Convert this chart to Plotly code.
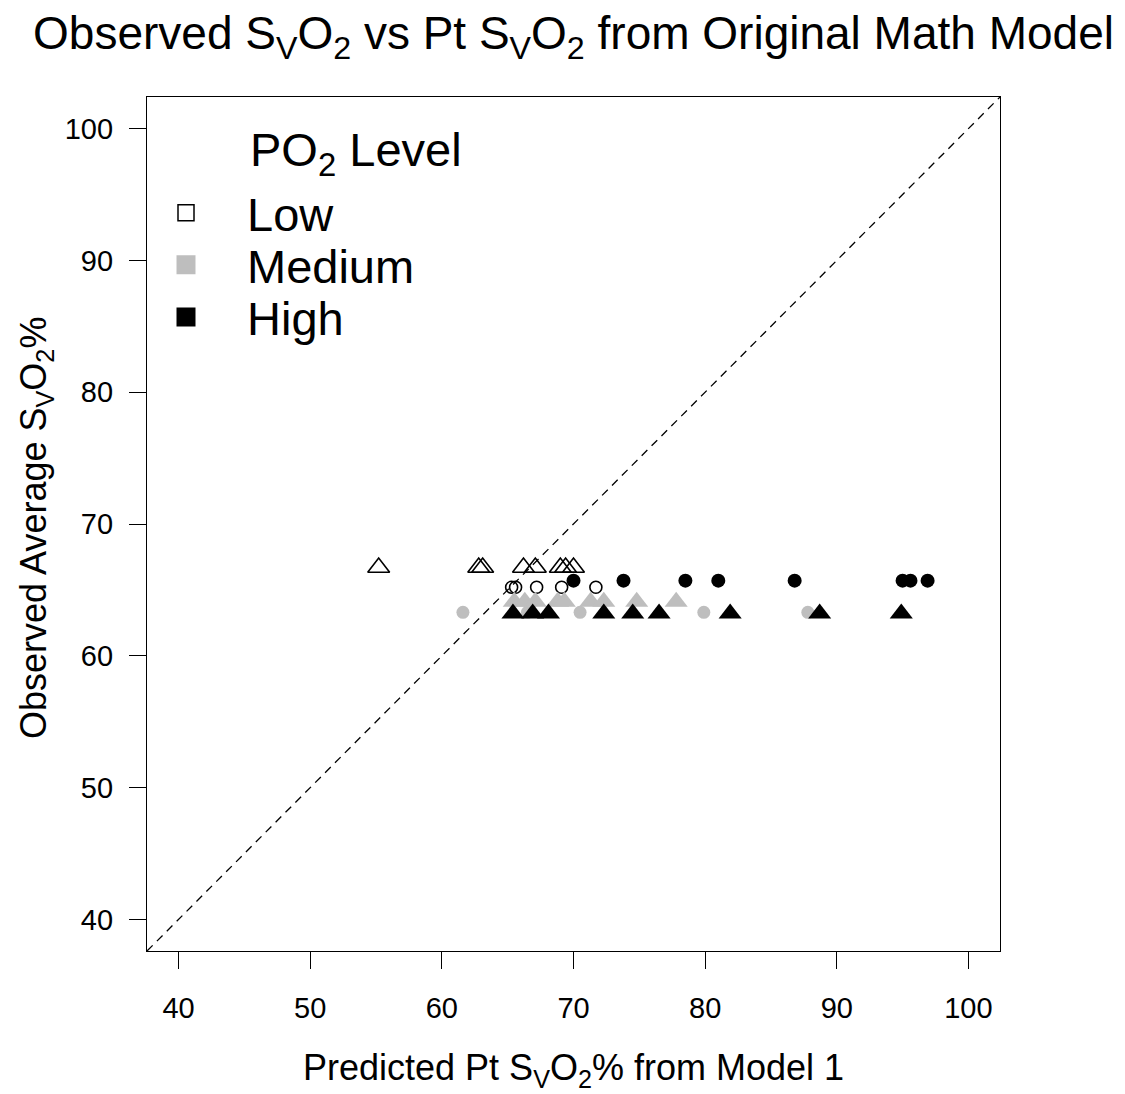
import plotly.graph_objects as go

# ---- data ----
low_tri_x = [55.2, 62.8, 63.1, 66.2, 67.1, 69.0, 69.4, 70.0]
low_tri_y = 66.7
low_circ_x = [65.3, 65.6, 67.2, 69.1, 71.7]
low_circ_y = 65.2
med_tri_x = [65.5, 66.3, 67.1, 68.8, 69.3, 71.3, 72.3, 74.8, 77.8]
med_tri_y = 64.1
med_circ_x = [61.6, 66.5, 70.5, 79.9, 87.8]
med_circ_y = 63.3
high_circ_x = [70.0, 73.8, 78.5, 81.0, 86.8, 95.0, 95.6, 96.9]
high_circ_y = 65.7
high_tri_x = [65.4, 66.9, 68.1, 72.3, 74.5, 76.5, 81.9, 88.7, 94.9]
high_tri_y = 63.2

axis_range = [37.6, 102.4]
tick_vals = [40, 50, 60, 70, 80, 90, 100]
legend_labels = ["Low", "Medium", "High"]

GRAY = "#BEBEBE"
FONT = "Liberation Sans, Arial, sans-serif"

# page has an 8px body margin, so the figure is sized to fit the window
W, H = 1117, 1086
OFF = 8

fig = go.Figure()

# identity line
fig.add_trace(go.Scatter(x=axis_range, y=axis_range, mode="lines",
                         line=dict(color="black", width=1.3, dash="8px,6px"),
                         showlegend=False, hoverinfo="skip"))

def pts(xs, yv, symbol, size, color, line_color, line_width):
    fig.add_trace(go.Scatter(x=xs, y=[yv] * len(xs), mode="markers",
                             marker=dict(symbol=symbol, size=size, color=color,
                                         line=dict(color=line_color, width=line_width)),
                             showlegend=False))

pts(low_tri_x, low_tri_y, "triangle-up", 19, "rgba(0,0,0,0)", "black", 1.6)
pts(low_circ_x, low_circ_y, "circle", 12, "rgba(0,0,0,0)", "black", 1.6)
pts(med_tri_x, med_tri_y, "triangle-up", 20, GRAY, GRAY, 0)
pts(med_circ_x, med_circ_y, "circle", 13, GRAY, GRAY, 0)
pts(high_circ_x, high_circ_y, "circle", 14, "black", "black", 0)
pts(high_tri_x, high_tri_y, "triangle-up", 20, "black", "black", 0)

# legend entries, one legend each so the spacing can follow the reference
leg_fill = ["white", GRAY, "black"]
leg_line = ["black", GRAY, "black"]
leg_lw = [1.5, 3, 3]
leg_names = ["legend", "legend2", "legend3"]
leg_y = [0.864, 0.803, 0.742]
for lab, fc, lc, lw, ln in zip(legend_labels, leg_fill, leg_line, leg_lw, leg_names):
    fig.add_trace(go.Scatter(x=[None], y=[None], mode="markers", name=lab,
                             marker=dict(symbol="square", size=16, color=fc,
                                         line=dict(color=lc, width=lw)),
                             legend=ln, showlegend=True))

leg_common = dict(bgcolor="rgba(0,0,0,0)", borderwidth=0, itemwidth=112,
                  font=dict(size=47, family=FONT, color="black"),
                  xanchor="left", yanchor="middle", x=(125 - 147) / 853)
layout_legends = {}
for ln, yy in zip(leg_names, leg_y):
    layout_legends[ln] = dict(leg_common, y=yy)

axis_common = dict(range=axis_range, tickvals=tick_vals, ticks="outside",
                   ticklen=17, tickwidth=1.3, tickcolor="black",
                   showline=True, linecolor="black", linewidth=1.3, mirror=True,
                   showgrid=False, zeroline=False,
                   tickfont=dict(size=29, family=FONT, color="black"))

fig.update_layout(
    width=W, height=H,
    margin=dict(l=147 - OFF, r=125, t=97 - OFF, b=H - (951 - OFF)),
    paper_bgcolor="white", plot_bgcolor="white",
    font=dict(family=FONT, color="black"),
    title=dict(text="Observed S<sub>V</sub>O<sub>2</sub> vs Pt S<sub>V</sub>O<sub>2</sub> from Original Math Model",
               x=0.5, xref="paper", xanchor="center",
               y=1 - (33 - OFF) / H, yref="container", yanchor="middle",
               font=dict(size=46, family=FONT, color="black")),
    xaxis=dict(axis_common, ticklabelstandoff=14),
    yaxis=dict(axis_common, ticklabelstandoff=10),
    **layout_legends,
)

fig.add_annotation(text="PO<sub>2</sub> Level", xref="paper", yref="paper",
                   x=(248 - 147) / 853, y=(951 - 153) / 854, xanchor="left", yanchor="middle",
                   showarrow=False, font=dict(size=47, family=FONT, color="black"))
fig.add_annotation(text="Predicted Pt S<sub>V</sub>O<sub>2</sub>% from Model 1", xref="paper", yref="paper",
                   x=0.5, y=-(1070 - 951) / 854, xanchor="center", yanchor="middle",
                   showarrow=False, font=dict(size=36, family=FONT, color="black"))
fig.add_annotation(text="Observed Average S<sub>V</sub>O<sub>2</sub>%", xref="paper", yref="paper",
                   x=-(147 - 36) / 853, y=(951 - 528) / 854, xanchor="center", yanchor="middle",
                   textangle=-90, showarrow=False, font=dict(size=36, family=FONT, color="black"))

fig.write_html("out.html")
